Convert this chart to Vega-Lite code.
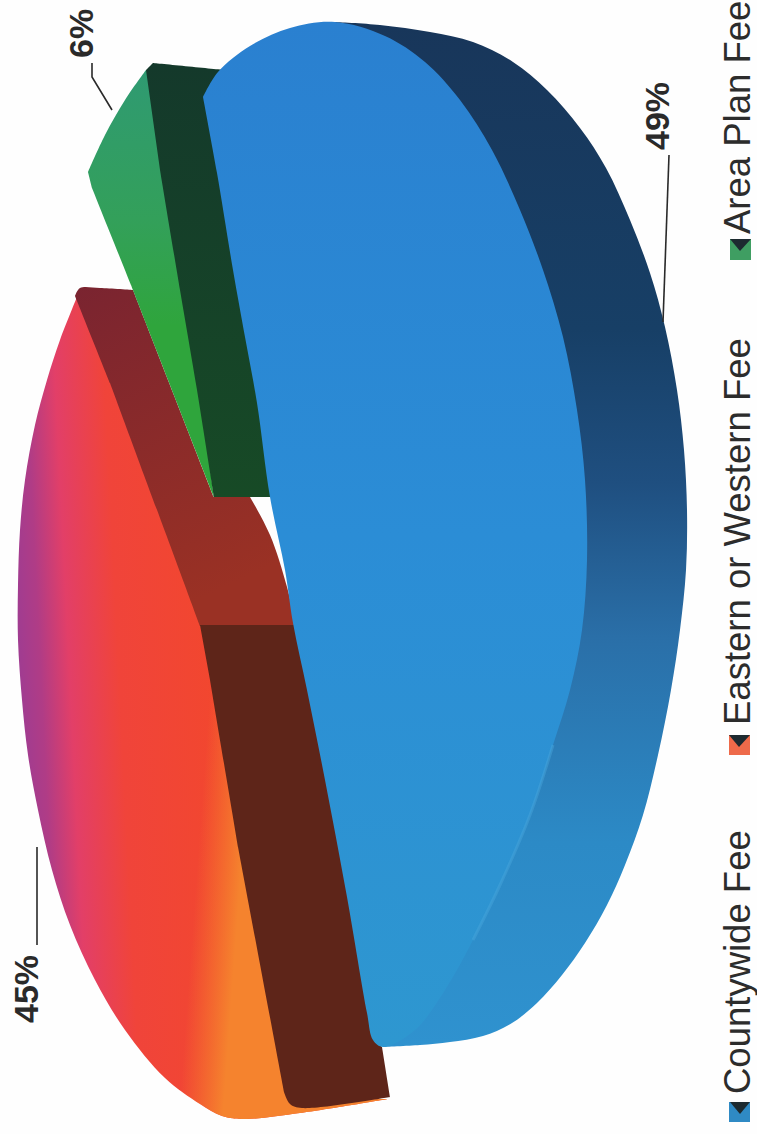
{
  "$schema": "https://vega.github.io/schema/vega-lite/v6.json",
  "width": 757,
  "height": 1134,
  "padding": 0,
  "autosize": {"type": "none"},
  "background": "#fefefe",
  "view": {"stroke": null},
  "datasets": {
    "fees": [
      {"fee": "Countywide Fee", "share": 0.45, "valueAcross": 38, "valueAlong": 1023, "nameAcross": 749.5, "nameAlong": 1094, "boxLeft": 729, "boxRight": 750, "boxStart": 1102, "boxEnd": 1122},
      {"fee": "Eastern or Western Fee", "nameAcross": 749.5, "nameAlong": 725, "boxLeft": 729, "boxRight": 750, "boxStart": 735, "boxEnd": 755},
      {"fee": "Area Plan Fee", "share": 0.06, "valueAcross": 93, "valueAlong": 58, "nameAcross": 749.5, "nameAlong": 234, "boxLeft": 730, "boxRight": 751, "boxStart": 239, "boxEnd": 260},
      {"fee": "Blue Slice", "share": 0.49, "valueAcross": 669, "valueAlong": 150}
    ],
    "faces": [
      {"part":"redTop","seq":1,"x":77,"y":297},{"part":"redTop","seq":1.5,"x":77,"y":297},{"part":"redTop","seq":2,"x":60,"y":340},{"part":"redTop","seq":3,"x":47,"y":380},{"part":"redTop","seq":4,"x":35,"y":425},{"part":"redTop","seq":5,"x":25,"y":480},{"part":"redTop","seq":6,"x":20,"y":530},{"part":"redTop","seq":7,"x":18,"y":585},{"part":"redTop","seq":8,"x":18,"y":640},{"part":"redTop","seq":9,"x":22,"y":700},{"part":"redTop","seq":10,"x":28,"y":755},{"part":"redTop","seq":11,"x":38,"y":810},{"part":"redTop","seq":12,"x":52,"y":870},{"part":"redTop","seq":13,"x":70,"y":925},{"part":"redTop","seq":14,"x":95,"y":980},{"part":"redTop","seq":15,"x":125,"y":1030},{"part":"redTop","seq":16,"x":165,"y":1078},{"part":"redTop","seq":17,"x":200,"y":1104},{"part":"redTop","seq":18,"x":222,"y":1116},{"part":"redTop","seq":19,"x":245,"y":1119},{"part":"redTop","seq":20,"x":300,"y":1113},{"part":"redTop","seq":21,"x":388,"y":1099},{"part":"redTop","seq":21.5,"x":388,"y":1099},{"part":"redTop","seq":22,"x":300,"y":1100},{"part":"redTop","seq":22.5,"x":300,"y":1100},{"part":"redTop","seq":24,"x":243,"y":847},{"part":"redTop","seq":24.5,"x":243,"y":847},{"part":"redTop","seq":26,"x":205,"y":625},{"part":"redTop","seq":26.5,"x":205,"y":625},{"part":"redTop","seq":28,"x":113,"y":383},{"part":"redTop","seq":28.5,"x":113,"y":383},

      {"part":"orangeGlow","seq":1,"x":205,"y":680},{"part":"orangeGlow","seq":1.5,"x":205,"y":680},{"part":"orangeGlow","seq":2,"x":172,"y":1085},{"part":"orangeGlow","seq":2.5,"x":172,"y":1085},{"part":"orangeGlow","seq":4,"x":200,"y":1104},{"part":"orangeGlow","seq":5,"x":222,"y":1116},{"part":"orangeGlow","seq":6,"x":245,"y":1119},{"part":"orangeGlow","seq":7,"x":300,"y":1113},{"part":"orangeGlow","seq":8,"x":388,"y":1099},{"part":"orangeGlow","seq":8.5,"x":388,"y":1099},{"part":"orangeGlow","seq":9,"x":300,"y":1100},{"part":"orangeGlow","seq":9.5,"x":300,"y":1100},{"part":"orangeGlow","seq":11,"x":243,"y":847},{"part":"orangeGlow","seq":11.5,"x":243,"y":847},{"part":"orangeGlow","seq":12,"x":215,"y":680},{"part":"orangeGlow","seq":12.5,"x":215,"y":680},

      {"part":"redCut","seq":1,"x":75,"y":296},{"part":"redCut","seq":2,"x":80,"y":288},{"part":"redCut","seq":3,"x":100,"y":288},{"part":"redCut","seq":4,"x":133,"y":290},{"part":"redCut","seq":4.5,"x":133,"y":290},{"part":"redCut","seq":5,"x":214,"y":497},{"part":"redCut","seq":5.5,"x":214,"y":497},{"part":"redCut","seq":6,"x":250,"y":497},{"part":"redCut","seq":6.5,"x":250,"y":497},{"part":"redCut","seq":7,"x":270,"y":535},{"part":"redCut","seq":8,"x":287,"y":587},{"part":"redCut","seq":9,"x":296,"y":626},{"part":"redCut","seq":9.5,"x":296,"y":626},{"part":"redCut","seq":10,"x":200,"y":626},{"part":"redCut","seq":10.5,"x":200,"y":626},{"part":"redCut","seq":11,"x":110,"y":383},{"part":"redCut","seq":11.5,"x":110,"y":383},{"part":"redCut","seq":12,"x":75,"y":296},

      {"part":"brownCut","seq":1,"x":200,"y":625},{"part":"brownCut","seq":1.5,"x":200,"y":625},{"part":"brownCut","seq":2,"x":296,"y":625},{"part":"brownCut","seq":2.5,"x":296,"y":625},{"part":"brownCut","seq":3,"x":310,"y":690},{"part":"brownCut","seq":4,"x":328,"y":780},{"part":"brownCut","seq":5,"x":350,"y":897},{"part":"brownCut","seq":6,"x":369,"y":1013},{"part":"brownCut","seq":7,"x":375,"y":1040},{"part":"brownCut","seq":7.5,"x":375,"y":1040},{"part":"brownCut","seq":8,"x":382,"y":1047},{"part":"brownCut","seq":8.5,"x":382,"y":1047},{"part":"brownCut","seq":9,"x":390,"y":1097},{"part":"brownCut","seq":9.5,"x":390,"y":1097},{"part":"brownCut","seq":10,"x":302,"y":1108},{"part":"brownCut","seq":11,"x":290,"y":1104},{"part":"brownCut","seq":12,"x":284,"y":1092},{"part":"brownCut","seq":12.5,"x":284,"y":1092},{"part":"brownCut","seq":13,"x":238,"y":847},{"part":"brownCut","seq":13.5,"x":238,"y":847},{"part":"brownCut","seq":14,"x":210,"y":680},{"part":"brownCut","seq":14.5,"x":210,"y":680},

      {"part":"greenTop","seq":1,"x":146,"y":70},{"part":"greenTop","seq":1.5,"x":146,"y":70},{"part":"greenTop","seq":2,"x":125,"y":100},{"part":"greenTop","seq":3,"x":105,"y":135},{"part":"greenTop","seq":4,"x":88,"y":172},{"part":"greenTop","seq":4.5,"x":88,"y":172},{"part":"greenTop","seq":5,"x":92,"y":188},{"part":"greenTop","seq":5.5,"x":92,"y":188},{"part":"greenTop","seq":6,"x":131,"y":285},{"part":"greenTop","seq":6.5,"x":131,"y":285},{"part":"greenTop","seq":8,"x":214,"y":497},{"part":"greenTop","seq":8.5,"x":214,"y":497},{"part":"greenTop","seq":9,"x":204,"y":420},{"part":"greenTop","seq":9.5,"x":204,"y":420},{"part":"greenTop","seq":11,"x":153,"y":70},{"part":"greenTop","seq":11.5,"x":153,"y":70},

      {"part":"greenCut","seq":1,"x":146,"y":70},{"part":"greenCut","seq":1.5,"x":146,"y":70},{"part":"greenCut","seq":2,"x":153,"y":63},{"part":"greenCut","seq":2.5,"x":153,"y":63},{"part":"greenCut","seq":3,"x":225,"y":70},{"part":"greenCut","seq":3.5,"x":225,"y":70},{"part":"greenCut","seq":4,"x":300,"y":97},{"part":"greenCut","seq":4.5,"x":300,"y":97},{"part":"greenCut","seq":8,"x":300,"y":497},{"part":"greenCut","seq":8.5,"x":300,"y":497},{"part":"greenCut","seq":9,"x":214,"y":497},{"part":"greenCut","seq":9.5,"x":214,"y":497},{"part":"greenCut","seq":10,"x":197,"y":390},{"part":"greenCut","seq":11,"x":180,"y":290},{"part":"greenCut","seq":12,"x":160,"y":170},{"part":"greenCut","seq":12.5,"x":160,"y":170},

      {"part":"blueRim","seq":1,"x":335,"y":22},{"part":"blueRim","seq":1.5,"x":335,"y":22},{"part":"blueRim","seq":2,"x":380,"y":25},{"part":"blueRim","seq":3,"x":430,"y":32},{"part":"blueRim","seq":4,"x":473,"y":42},{"part":"blueRim","seq":5,"x":513,"y":62},{"part":"blueRim","seq":6,"x":547,"y":90},{"part":"blueRim","seq":7,"x":580,"y":128},{"part":"blueRim","seq":8,"x":606,"y":168},{"part":"blueRim","seq":9,"x":630,"y":220},{"part":"blueRim","seq":10,"x":650,"y":273},{"part":"blueRim","seq":11,"x":665,"y":327},{"part":"blueRim","seq":12,"x":677,"y":390},{"part":"blueRim","seq":13,"x":684,"y":450},{"part":"blueRim","seq":14,"x":687,"y":510},{"part":"blueRim","seq":15,"x":686,"y":570},{"part":"blueRim","seq":16,"x":680,"y":630},{"part":"blueRim","seq":17,"x":671,"y":690},{"part":"blueRim","seq":18,"x":658,"y":755},{"part":"blueRim","seq":19,"x":643,"y":815},{"part":"blueRim","seq":20,"x":625,"y":865},{"part":"blueRim","seq":21,"x":607,"y":905},{"part":"blueRim","seq":22,"x":585,"y":943},{"part":"blueRim","seq":23,"x":562,"y":975},{"part":"blueRim","seq":24,"x":537,"y":1003},{"part":"blueRim","seq":25,"x":512,"y":1023},{"part":"blueRim","seq":26,"x":483,"y":1036},{"part":"blueRim","seq":27,"x":450,"y":1042},{"part":"blueRim","seq":28,"x":420,"y":1045},{"part":"blueRim","seq":29,"x":383,"y":1047},{"part":"blueRim","seq":29.5,"x":383,"y":1047},{"part":"blueRim","seq":30,"x":350,"y":500},{"part":"blueRim","seq":30.5,"x":350,"y":500},

      {"part":"blueTop","seq":1,"x":203,"y":97},{"part":"blueTop","seq":1.5,"x":203,"y":97},{"part":"blueTop","seq":2,"x":218,"y":72},{"part":"blueTop","seq":3,"x":250,"y":46},{"part":"blueTop","seq":4,"x":290,"y":28},{"part":"blueTop","seq":5,"x":335,"y":22},{"part":"blueTop","seq":6,"x":385,"y":36},{"part":"blueTop","seq":7,"x":425,"y":62},{"part":"blueTop","seq":8,"x":460,"y":100},{"part":"blueTop","seq":9,"x":492,"y":150},{"part":"blueTop","seq":10,"x":520,"y":210},{"part":"blueTop","seq":11,"x":543,"y":270},{"part":"blueTop","seq":12,"x":563,"y":337},{"part":"blueTop","seq":13,"x":577,"y":410},{"part":"blueTop","seq":14,"x":585,"y":480},{"part":"blueTop","seq":15,"x":587,"y":560},{"part":"blueTop","seq":16,"x":582,"y":630},{"part":"blueTop","seq":17,"x":570,"y":690},{"part":"blueTop","seq":18,"x":553,"y":745},{"part":"blueTop","seq":19,"x":530,"y":815},{"part":"blueTop","seq":20,"x":500,"y":885},{"part":"blueTop","seq":21,"x":473,"y":940},{"part":"blueTop","seq":22,"x":445,"y":990},{"part":"blueTop","seq":23,"x":415,"y":1030},{"part":"blueTop","seq":24,"x":383,"y":1047},{"part":"blueTop","seq":25,"x":373,"y":1040},{"part":"blueTop","seq":26,"x":367,"y":1013},{"part":"blueTop","seq":27,"x":347,"y":897},{"part":"blueTop","seq":28,"x":325,"y":780},{"part":"blueTop","seq":29,"x":307,"y":690},{"part":"blueTop","seq":30,"x":293,"y":623},{"part":"blueTop","seq":31,"x":285,"y":570},{"part":"blueTop","seq":32,"x":270,"y":497},{"part":"blueTop","seq":33,"x":257,"y":403},{"part":"blueTop","seq":34,"x":245,"y":337},{"part":"blueTop","seq":35,"x":233,"y":270},{"part":"blueTop","seq":36,"x":217,"y":173},{"part":"blueTop","seq":37,"x":203,"y":97},

      {"part":"notchBlue","seq":1,"x":730,"y":1102},{"part":"notchBlue","seq":2,"x":750,"y":1102},{"part":"notchBlue","seq":3,"x":740,"y":1114},
      {"part":"notchRed","seq":1,"x":729,"y":735},{"part":"notchRed","seq":2,"x":750,"y":735},{"part":"notchRed","seq":3,"x":739,"y":747},
      {"part":"notchGreen","seq":1,"x":730,"y":239},{"part":"notchGreen","seq":2,"x":751,"y":239},{"part":"notchGreen","seq":3,"x":740,"y":251}
    ],
    "seam": [
      {"seq":1,"x":553,"y":745},{"seq":2,"x":530,"y":815},{"seq":3,"x":500,"y":885},{"seq":4,"x":473,"y":940}
    ],
    "leaders": [
      {"slice":"45","seq":1,"x":37,"y":847},{"slice":"45","seq":2,"x":37,"y":945},
      {"slice":"49","seq":1,"x":669,"y":155},{"slice":"49","seq":2,"x":663,"y":322},
      {"slice":"6","seq":1,"x":92,"y":63},{"slice":"6","seq":2,"x":92,"y":77},{"slice":"6","seq":3,"x":112,"y":110}
    ]
  },
  "encoding": {
    "x": {"field": "x", "type": "quantitative", "axis": null, "scale": {"domain": [0, 757]}},
    "y": {"field": "y", "type": "quantitative", "axis": null, "scale": {"domain": [0, 1134], "reverse": true}}
  },
  "layer": [
    {
      "data": {"name": "faces"},
      "transform": [{"filter": "datum.part === 'redTop'"}],
      "mark": {"type": "line", "interpolate": "catmull-rom", "strokeWidth": 0, "fill": {"gradient": "linear", "x1": 0, "y1": 0.5, "x2": 0.55, "y2": 0.44, "stops": [
        {"offset": 0, "color": "#9d3c93"},
        {"offset": 0.12, "color": "#b03c86"},
        {"offset": 0.26, "color": "#e23f68"},
        {"offset": 0.5, "color": "#f0443a"},
        {"offset": 1, "color": "#f2472e"}
      ]}},
      "encoding": {"order": {"field": "seq"}}
    },
    {
      "data": {"name": "faces"},
      "transform": [{"filter": "datum.part === 'orangeGlow'"}],
      "mark": {"type": "line", "interpolate": "catmull-rom", "strokeWidth": 0, "fill": {"gradient": "linear", "x1": 0.179, "y1": 0, "x2": 0.38, "y2": 0.03, "stops": [
        {"offset": 0, "color": "rgba(245,125,44,0)"},
        {"offset": 1, "color": "rgba(245,131,46,1)"}
      ]}},
      "encoding": {"order": {"field": "seq"}}
    },
    {
      "data": {"name": "faces"},
      "transform": [{"filter": "datum.part === 'redCut'"}],
      "mark": {"type": "line", "interpolate": "catmull-rom", "strokeWidth": 0, "fill": {"gradient": "linear", "x1": 0, "y1": 0, "x2": 0.3, "y2": 1, "stops": [
        {"offset": 0, "color": "#7a2430"},
        {"offset": 1, "color": "#9a3124"}
      ]}},
      "encoding": {"order": {"field": "seq"}}
    },
    {
      "data": {"name": "faces"},
      "transform": [{"filter": "datum.part === 'brownCut'"}],
      "mark": {"type": "line", "interpolate": "catmull-rom", "strokeWidth": 0, "fill": "#5e2519"},
      "encoding": {"order": {"field": "seq"}}
    },
    {
      "data": {"name": "faces"},
      "transform": [{"filter": "datum.part === 'greenTop'"}],
      "mark": {"type": "line", "interpolate": "catmull-rom", "strokeWidth": 0, "fill": {"gradient": "linear", "x1": 0, "y1": 0, "x2": 0, "y2": 1, "stops": [
        {"offset": 0, "color": "#2f9a72"},
        {"offset": 0.35, "color": "#33a05a"},
        {"offset": 0.6, "color": "#2fa53c"},
        {"offset": 1, "color": "#2fa53c"}
      ]}},
      "encoding": {"order": {"field": "seq"}}
    },
    {
      "data": {"name": "faces"},
      "transform": [{"filter": "datum.part === 'greenCut'"}],
      "mark": {"type": "line", "interpolate": "catmull-rom", "strokeWidth": 0, "fill": {"gradient": "linear", "x1": 0, "y1": 0, "x2": 0, "y2": 1, "stops": [
        {"offset": 0, "color": "#14392b"},
        {"offset": 1, "color": "#174a26"}
      ]}},
      "encoding": {"order": {"field": "seq"}}
    },
    {
      "data": {"name": "faces"},
      "transform": [{"filter": "datum.part === 'blueRim'"}],
      "mark": {"type": "line", "interpolate": "catmull-rom", "strokeWidth": 0, "fill": {"gradient": "linear", "x1": 0, "y1": 0, "x2": 0, "y2": 1, "stops": [
        {"offset": 0, "color": "#18365a"},
        {"offset": 0.3, "color": "#173f66"},
        {"offset": 0.45, "color": "#1f4f80"},
        {"offset": 0.6, "color": "#2a6fa8"},
        {"offset": 0.8, "color": "#2c8ac6"},
        {"offset": 1, "color": "#2f92cf"}
      ]}},
      "encoding": {"order": {"field": "seq"}}
    },
    {
      "data": {"name": "faces"},
      "transform": [{"filter": "datum.part === 'blueTop'"}],
      "mark": {"type": "line", "interpolate": "catmull-rom", "strokeWidth": 0, "fill": {"gradient": "linear", "x1": 0, "y1": 0, "x2": 0, "y2": 1, "stops": [
        {"offset": 0, "color": "#2a80d0"},
        {"offset": 0.5, "color": "#2b8dd6"},
        {"offset": 1, "color": "#2e97d0"}
      ]}},
      "encoding": {"order": {"field": "seq"}}
    },
    {
      "data": {"name": "seam"},
      "mark": {"type": "line", "interpolate": "catmull-rom", "stroke": "#4aa6dc", "strokeWidth": 3, "strokeOpacity": 0.45},
      "encoding": {"order": {"field": "seq"}}
    },
    {
      "data": {"name": "leaders"},
      "mark": {"type": "line", "stroke": "#2a2a2a", "strokeWidth": 1.6},
      "encoding": {"detail": {"field": "slice"}, "order": {"field": "seq"}}
    },
    {
      "data": {"name": "fees"},
      "transform": [{"filter": "isValid(datum.share)"}],
      "mark": {"type": "text", "angle": 270, "align": "left", "baseline": "alphabetic", "font": "Liberation Sans", "fontWeight": "bold", "fontSize": 34, "fill": "#2a2a2a"},
      "encoding": {
        "x": {"field": "valueAcross", "type": "quantitative"},
        "y": {"field": "valueAlong", "type": "quantitative"},
        "text": {"field": "share", "type": "quantitative", "format": ".0%"}
      }
    },
    {
      "data": {"name": "fees"},
      "transform": [{"filter": "isValid(datum.nameAlong)"}],
      "mark": {"type": "text", "angle": 270, "align": "left", "baseline": "alphabetic", "font": "Liberation Sans", "fontSize": 36.5, "fill": "#2c2c2c"},
      "encoding": {
        "x": {"field": "nameAcross", "type": "quantitative"},
        "y": {"field": "nameAlong", "type": "quantitative"},
        "text": {"field": "fee"}
      }
    },
    {
      "data": {"name": "fees"},
      "transform": [{"filter": "isValid(datum.boxStart)"}],
      "mark": {"type": "rect"},
      "encoding": {
        "x": {"field": "boxLeft", "type": "quantitative"},
        "x2": {"field": "boxRight"},
        "y": {"field": "boxStart", "type": "quantitative"},
        "y2": {"field": "boxEnd"},
        "color": {"field": "fee", "legend": null, "scale": {
          "domain": ["Countywide Fee", "Eastern or Western Fee", "Area Plan Fee"],
          "range": ["#2f8ac4", "#ee6a4a", "#3f9e62"]
        }}
      }
    },
    {
      "data": {"name": "faces"},
      "transform": [{"filter": "indexof(datum.part, 'notch') === 0"}],
      "mark": {"type": "line", "strokeWidth": 0, "fill": "#1d2a30"},
      "encoding": {"detail": {"field": "part"}, "order": {"field": "seq"}}
    }
  ]
}
